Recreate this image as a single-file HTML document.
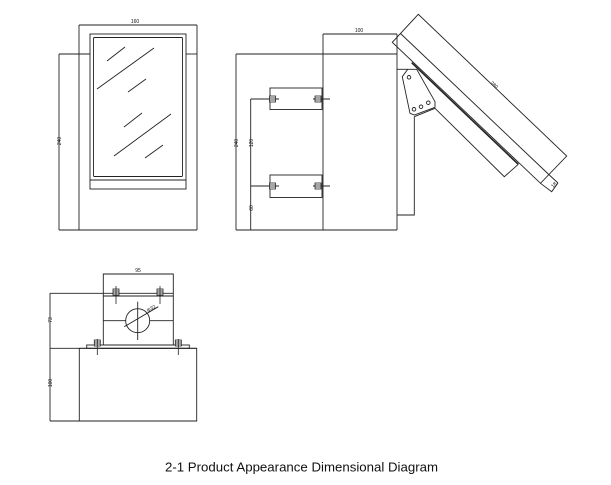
<!DOCTYPE html>
<html><head><meta charset="utf-8"><style>
html,body{margin:0;padding:0;background:#fff;width:611px;height:485px;overflow:hidden}
svg{display:block}
text{font-family:"Liberation Sans",sans-serif;fill:#111}
</style></head><body>
<svg width="611" height="485" viewBox="0 0 611 485" xmlns="http://www.w3.org/2000/svg">
<defs>
<g id="bolt" stroke="#222" stroke-width="0.8" fill="#fff">
<rect x="-3" y="-3" width="6" height="6"/>
<line x1="-3" y1="-1" x2="3" y2="-1"/><line x1="-3" y1="1" x2="3" y2="1"/>
</g>
</defs>
<g fill="none" stroke="#222" stroke-width="0.9">
<!-- front view -->
<line x1="79" y1="25" x2="197" y2="25"/>
<line x1="79" y1="25" x2="79" y2="230"/>
<line x1="197" y1="25" x2="197" y2="230"/>
<line x1="59" y1="230" x2="197" y2="230"/>
<line x1="59" y1="54" x2="90" y2="54"/>
<line x1="186" y1="54" x2="197" y2="54"/>
<line x1="59" y1="54" x2="59" y2="230"/>
<rect x="90" y="34" width="96" height="155"/>
<rect x="93.5" y="37.5" width="89" height="139" rx="1"/>
<line x1="90" y1="180" x2="186" y2="180"/>
<line x1="107" y1="61" x2="125" y2="47"/>
<line x1="97" y1="89" x2="154" y2="48"/>
<line x1="128" y1="92" x2="146" y2="79"/>
<line x1="124" y1="127" x2="142" y2="113"/>
<line x1="114" y1="156" x2="171" y2="114"/>
<line x1="145" y1="158" x2="163" y2="145"/>

<!-- side view -->
<line x1="323" y1="34" x2="397" y2="34"/>
<line x1="236" y1="54" x2="397" y2="54"/>
<line x1="236" y1="54" x2="236" y2="230"/>
<line x1="236" y1="230" x2="397" y2="230"/>
<line x1="323" y1="34" x2="323" y2="230"/>
<line x1="397" y1="34" x2="397" y2="230"/>
<line x1="250.7" y1="99" x2="250.7" y2="230"/>
<rect x="270" y="88" width="52" height="21.5"/>
<rect x="270" y="175" width="52" height="22.5"/>
<line x1="250.7" y1="99" x2="279" y2="99"/>
<line x1="313" y1="99" x2="330" y2="99"/>
<line x1="250.7" y1="186" x2="279" y2="186"/>
<line x1="313" y1="186" x2="330" y2="186"/>
<!-- bracket -->
<polyline points="397,69.3 407.7,69.3"/>
<polyline points="414.3,116.7 414.3,215 397,215"/>
<polygon points="402.3,76.7 407.7,69.3 416.7,69.3 435,101.7 435,107.3 414.3,115 410,113.3"/>
<circle cx="409" cy="77.3" r="1.8"/>
<circle cx="414" cy="109.3" r="1.8"/>
<circle cx="421" cy="106.7" r="1.8"/>
<circle cx="428.3" cy="102.7" r="1.8"/>
<line x1="414.3" y1="116.7" x2="435" y2="108.3"/>
<line x1="411.7" y1="62.7" x2="518.3" y2="164.3" stroke-width="1.6"/>
<polyline points="435,108.3 504.3,176.7 518.3,164.3"/>
<!-- panel -->
<polygon points="392.3,42.3 418.3,14.3 566.7,156 540.5,183.3"/>
<line x1="400.5" y1="33.5" x2="549.3" y2="175"/>
<polyline points="540.5,183.3 551.7,191.7 558,183"/>
<line x1="549.3" y1="175" x2="558" y2="183"/>

<!-- bottom view -->
<line x1="103.3" y1="274" x2="173.3" y2="274"/>
<rect x="103.3" y="274" width="70" height="71"/>
<line x1="50" y1="293.3" x2="173.3" y2="293.3"/>
<line x1="103.3" y1="296" x2="173.3" y2="296"/>
<line x1="103.3" y1="320.7" x2="173.3" y2="320.7"/>
<line x1="50" y1="293.3" x2="50" y2="421"/>
<rect x="86.7" y="345" width="102.6" height="3.3"/>
<line x1="50" y1="348.3" x2="196.7" y2="348.3"/>
<rect x="79.3" y="348.3" width="117.4" height="72.7"/>
<line x1="50" y1="421" x2="196.7" y2="421"/>
<circle cx="137.7" cy="320.7" r="12" fill="#fff"/>
<line x1="137.7" y1="301.7" x2="137.7" y2="340"/>
<line x1="124.3" y1="326.7" x2="158.3" y2="306.7"/>
</g>
<use href="#bolt" x="272.5" y="99"/><use href="#bolt" x="318" y="99"/>
<use href="#bolt" x="272.5" y="186"/><use href="#bolt" x="318" y="186"/>
<use href="#bolt" x="116" y="292"/><use href="#bolt" x="160" y="292"/>
<use href="#bolt" x="97.3" y="343"/><use href="#bolt" x="178.3" y="343"/>
<g stroke="#222" stroke-width="0.8">
<line x1="116" y1="286" x2="116" y2="304"/><line x1="160" y1="286" x2="160" y2="304"/>
<line x1="97.3" y1="339" x2="97.3" y2="355"/><line x1="178.3" y1="339" x2="178.3" y2="355"/>
</g>
<g font-size="5">
<text x="135" y="23" text-anchor="middle">160</text>
<text transform="translate(61,141) rotate(-90)" text-anchor="middle">240</text>
<text x="359" y="32" text-anchor="middle">100</text>
<text transform="translate(238,143) rotate(-90)" text-anchor="middle">240</text>
<text transform="translate(253,143) rotate(-90)" text-anchor="middle">120</text>
<text transform="translate(253,208) rotate(-90)" text-anchor="middle">60</text>
<text transform="translate(493,86) rotate(44)" text-anchor="middle">280</text>
<text transform="translate(555,186) rotate(-46)" text-anchor="middle">18</text>
<text x="138" y="272" text-anchor="middle">95</text>
<text transform="translate(52,320) rotate(-90)" text-anchor="middle">73</text>
<text transform="translate(52,383) rotate(-90)" text-anchor="middle">100</text>
<text transform="translate(152,310) rotate(-31)" text-anchor="middle">Φ32</text>
</g>
<text x="165" y="471.5" font-size="12.5" textLength="273" lengthAdjust="spacingAndGlyphs">2-1 Product Appearance Dimensional Diagram</text>
</svg>
</body></html>
